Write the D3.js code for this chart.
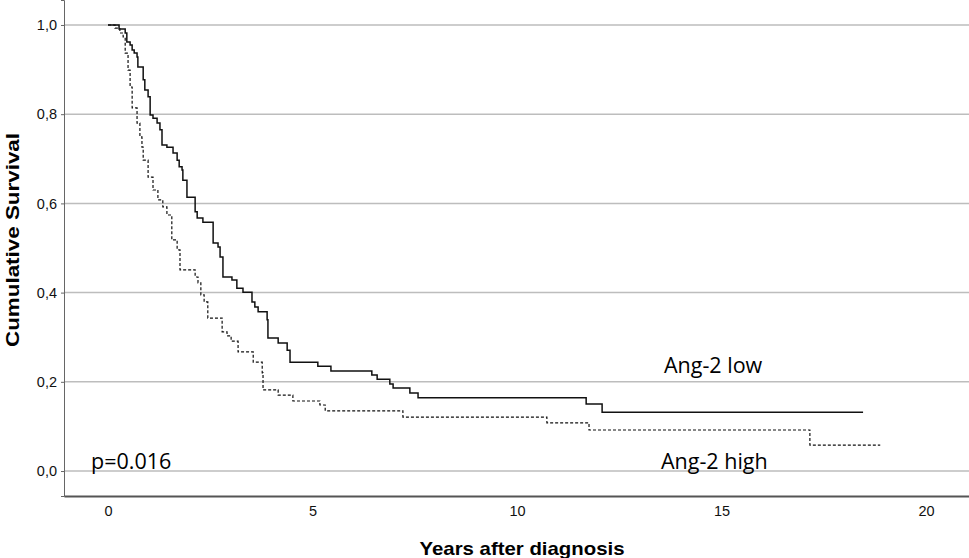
<!DOCTYPE html>
<html lang="en">
<head>
<meta charset="UTF-8">
<title>Cumulative Survival by Ang-2</title>
<script src="https://d3js.org/d3.v7.min.js"></script>
<style>
    body { margin: 0; background: #fff; }
    .tick text { font-family: "Liberation Sans", Arial, sans-serif; font-size: 14.5px; fill: #111; }
    .axis-title { font-family: "Liberation Sans", Arial, sans-serif; font-size: 19px; font-weight: bold; fill: #000; }
    .note { font-family: "Open Sans", "Lato", sans-serif; font-size: 21.5px; fill: #000; }
</style>
</head>
<body>
<div id="chart"></div>
<script>
// Ang-2 low: step times (years) and survival after each step
const lowTimes = [0, 0.27, 0.42, 0.46, 0.54, 0.59, 0.64, 0.71, 0.73, 0.86, 0.90, 0.98, 1.03, 1.10, 1.20,
    1.27, 1.32, 1.44, 1.59, 1.69, 1.74, 1.81, 1.83, 1.93, 2.13, 2.18, 2.32, 2.57, 2.69, 2.74, 2.81,
    3.03, 3.15, 3.30, 3.52, 3.59, 3.67, 3.89, 3.91, 4.16, 4.38, 4.45, 5.13, 5.45, 6.45, 6.58, 6.89,
    6.97, 7.38, 7.58, 11.69, 12.08, 18.46];
const lowSurv = [1.000, 0.991, 0.982, 0.962, 0.955, 0.944, 0.937, 0.928, 0.906, 0.877, 0.854, 0.839, 0.798, 0.791, 0.780,
    0.765, 0.731, 0.726, 0.713, 0.697, 0.682, 0.675, 0.652, 0.614, 0.581, 0.567, 0.558, 0.511, 0.502, 0.480, 0.435,
    0.428, 0.410, 0.401, 0.379, 0.368, 0.357, 0.339, 0.298, 0.287, 0.271, 0.244, 0.235, 0.224, 0.215, 0.206, 0.195,
    0.186, 0.175, 0.164, 0.150, 0.132, 0.132];

// Ang-2 high
const highTimes = [0, 0.17, 0.29, 0.37, 0.42, 0.49, 0.54, 0.59, 0.71, 0.78, 0.83, 0.86, 0.98, 1.10, 1.22,
    1.34, 1.44, 1.56, 1.69, 1.76, 2.13, 2.20, 2.27, 2.35, 2.44, 2.79, 2.91, 3.01, 3.18, 3.55, 3.77,
    3.79, 4.16, 4.52, 5.18, 5.31, 7.21, 10.73, 11.76, 17.16, 18.88];
const highSurv = [1.000, 0.993, 0.982, 0.973, 0.937, 0.899, 0.861, 0.814, 0.780, 0.749, 0.726, 0.697, 0.659, 0.630, 0.608,
    0.592, 0.574, 0.518, 0.496, 0.451, 0.435, 0.422, 0.395, 0.379, 0.343, 0.312, 0.303, 0.291, 0.267, 0.244, 0.220,
    0.182, 0.170, 0.157, 0.148, 0.135, 0.121, 0.108, 0.092, 0.058, 0.058];

const xTicks = [0, 5, 10, 15, 20];
const yTicks = [0, 0.2, 0.4, 0.6, 0.8, 1.0];

const W = 969, H = 558;
const margin = { top: 0, right: 0, bottom: 62, left: 64 };

const svg = d3.select("#chart").append("svg").attr("width", W).attr("height", H);

const x = d3.scaleLinear().domain([-1.076, 21.05]).range([margin.left, W - margin.right]);
const y = d3.scaleLinear().domain([-0.056, 1.056]).range([H - margin.bottom, margin.top]);

// gridlines
svg.append("g")
    .selectAll("line")
    .data(yTicks)
    .join("line")
    .attr("x1", margin.left).attr("x2", W)
    .attr("y1", d => y(d)).attr("y2", d => y(d))
    .attr("stroke", "#bdbdbd").attr("stroke-width", 1.5);

// axes
const yAxis = svg.append("g")
    .attr("transform", `translate(${margin.left},0)`)
    .call(d3.axisLeft(y).tickValues(yTicks).tickSize(3).tickPadding(4)
        .tickFormat(d => d3.format(".1f")(d).replace(".", ",")));
yAxis.select(".domain").attr("stroke", "#666");
yAxis.selectAll(".tick line").attr("stroke", "#666");

const xAxis = svg.append("g")
    .attr("transform", `translate(0,${H - margin.bottom})`)
    .call(d3.axisBottom(x).tickValues(xTicks).tickSize(0).tickPadding(10));
xAxis.select(".domain").attr("stroke", "#555").attr("stroke-width", 2);

// curves
const line = d3.line()
    .x(d => x(d[0]))
    .y(d => y(d[1]))
    .curve(d3.curveStepAfter);

svg.append("path")
    .datum(lowTimes.map((t, i) => [t, lowSurv[i]]))
    .attr("fill", "none")
    .attr("stroke", "#111")
    .attr("stroke-width", 1.5)
    .attr("d", line);

svg.append("path")
    .datum(highTimes.map((t, i) => [t, highSurv[i]]))
    .attr("fill", "none")
    .attr("stroke", "#111")
    .attr("stroke-width", 1.2)
    .attr("stroke-dasharray", "3,2")
    .attr("d", line);

// titles
svg.append("text")
    .attr("class", "axis-title")
    .attr("text-anchor", "middle")
    .attr("transform", `translate(19,240) rotate(-90)`)
    .attr("textLength", 214)
    .attr("lengthAdjust", "spacingAndGlyphs")
    .text("Cumulative Survival");

svg.append("text")
    .attr("class", "axis-title")
    .attr("text-anchor", "middle")
    .attr("x", 522).attr("y", 555)
    .attr("textLength", 205)
    .attr("lengthAdjust", "spacingAndGlyphs")
    .text("Years after diagnosis");

// annotations
svg.append("text").attr("class", "note").attr("x", 664).attr("y", 373).text("Ang-2 low");
svg.append("text").attr("class", "note").attr("x", 661).attr("y", 469).text("Ang-2 high");
svg.append("text").attr("class", "note").attr("x", 91).attr("y", 469).text("p=0.016");
</script>
</body>
</html>
